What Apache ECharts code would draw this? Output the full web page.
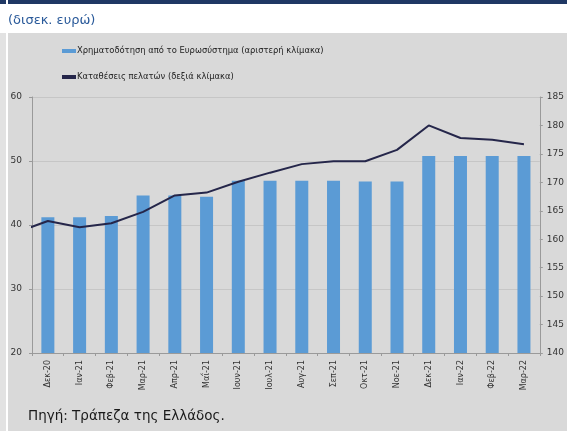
<!DOCTYPE html>
<html>
<head>
    <meta charset="utf-8">
    <script src="https://cdn.jsdelivr.net/npm/echarts@6/dist/echarts.min.js"></script>
    <title>Χρηματοδότηση και καταθέσεις</title>
    <style>
        html, body { margin: 0; padding: 0; background: #ffffff; }
    </style>
</head>
<body>
    <div id="main" style="width:567px; height:431px;"></div>
    <script type="text/javascript">
        var months = ['Δεκ-20', 'Ιαν-21', 'Φεβ-21', 'Μαρ-21', 'Απρ-21', 'Μαΐ-21', 'Ιουν-21', 'Ιουλ-21',
            'Αυγ-21', 'Σεπ-21', 'Οκτ-21', 'Νοε-21', 'Δεκ-21', 'Ιαν-22', 'Φεβ-22', 'Μαρ-22'];
        // left scale, bars
        var eurosystem = [41.2, 41.2, 41.4, 44.6, 44.6, 44.4, 46.9, 46.9,
            46.9, 46.9, 46.8, 46.8, 50.8, 50.8, 50.8, 50.8];
        // right scale, line (first value = Νοε-20, only its last half-segment is visible)
        var depositsPrev = 161.2;
        var deposits = [163.2, 162.1, 162.8, 164.8, 167.7, 168.2, 170.1, 171.7,
            173.2, 173.7, 173.7, 175.7, 180.0, 177.8, 177.5, 176.7];

        var barName = 'Χρηματοδότηση από το Ευρωσύστημα (αριστερή κλίμακα)';
        var lineName = 'Καταθέσεις πελατών (δεξιά κλίμακα)';

        var lineData = [[-1, depositsPrev]];
        for (var i = 0; i < deposits.length; i++) {
            lineData.push([i, deposits[i]]);
        }

        var font = 'DejaVu Sans, Verdana, sans-serif';
        var myChart = echarts.init(document.getElementById('main'));

        var option = {
            animation: false,
            graphic: [
                { type: 'rect', z: -10, shape: { x: 0, y: 0, width: 6, height: 4 }, style: { fill: '#203864' } },
                { type: 'rect', z: -10, shape: { x: 8, y: 0, width: 559, height: 4 }, style: { fill: '#203864' } },
                { type: 'rect', z: -10, shape: { x: 0, y: 33, width: 6, height: 398 }, style: { fill: '#e2e2e2' } },
                { type: 'rect', z: -10, shape: { x: 8, y: 33, width: 559, height: 398 }, style: { fill: '#d9d9d9' } },
                {
                    type: 'text', left: 28, top: 409,
                    style: { text: 'Πηγή: Τράπεζα της Ελλάδος.', fill: '#1a1a1a', font: '13.5px ' + font }
                }
            ],
            title: {
                text: '(δισεκ. ευρώ)',
                left: 3, top: 9,
                textStyle: { color: '#2a5a9a', fontSize: 13, fontWeight: 'normal', fontFamily: font }
            },
            legend: {
                orient: 'vertical',
                left: 57, top: 42,
                itemGap: 18,
                itemWidth: 14, itemHeight: 4,
                textStyle: { fontSize: 8.4, color: '#222', fontFamily: font, padding: [0, 0, 0, -4] },
                data: [
                    { name: barName, icon: 'rect' },
                    { name: lineName, icon: 'rect' }
                ]
            },
            grid: { left: 32, right: 26, top: 97, bottom: 78 },
            xAxis: [
                {
                    type: 'category',
                    data: months,
                    boundaryGap: true,
                    axisLine: { lineStyle: { color: '#9a9a9a' } },
                    axisTick: { show: true, interval: 0, length: 3, lineStyle: { color: '#9a9a9a' } },
                    axisLabel: {
                        interval: 0, rotate: 90, margin: 7,
                        fontSize: 8, color: '#333', fontFamily: font
                    }
                },
                {
                    type: 'value',
                    min: -0.5, max: 15.5,
                    show: false
                }
            ],
            yAxis: [
                {
                    type: 'value',
                    min: 20, max: 60, interval: 10,
                    axisLine: { show: true, onZero: false, lineStyle: { color: '#9a9a9a' } },
                    axisTick: { show: true, length: 3, lineStyle: { color: '#9a9a9a' } },
                    axisLabel: { margin: 10, fontSize: 9, color: '#333', fontFamily: font },
                    splitLine: { show: true, lineStyle: { color: '#c6c6c6' } }
                },
                {
                    type: 'value',
                    min: 140, max: 185, interval: 5,
                    axisLine: { show: true, onZero: false, lineStyle: { color: '#9a9a9a' } },
                    axisTick: { show: true, length: 3, lineStyle: { color: '#9a9a9a' } },
                    axisLabel: { margin: 7, fontSize: 9, color: '#333', fontFamily: font },
                    splitLine: { show: false }
                }
            ],
            series: [
                {
                    name: barName,
                    type: 'bar',
                    data: eurosystem,
                    barWidth: 13,
                    itemStyle: { color: '#5b9bd5' }
                },
                {
                    name: lineName,
                    type: 'line',
                    xAxisIndex: 1,
                    yAxisIndex: 1,
                    data: lineData,
                    clip: true,
                    showSymbol: false,
                    symbol: 'none',
                    lineStyle: { color: '#25264a', width: 2 },
                    itemStyle: { color: '#25264a' }
                }
            ]
        };
        myChart.setOption(option);
    </script>
</body>
</html>
